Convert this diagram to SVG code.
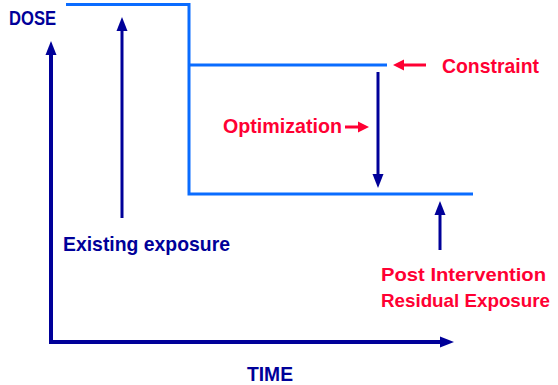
<svg xmlns="http://www.w3.org/2000/svg" width="558" height="385" viewBox="0 0 558 385">
<style>
.step{fill:none;stroke:#0a6cff;stroke-width:3}
.ax{fill:none;stroke:#000099;stroke-width:4;marker-end:url(#hb)}
.ar{fill:none;stroke:#000099;stroke-width:3;marker-end:url(#hb)}
.rd{fill:none;stroke:#ff0033;stroke-width:3;marker-end:url(#hr)}
text{font-family:"Liberation Sans",Arial,sans-serif;font-weight:bold;font-size:21px}
.b{fill:#000099}
.r{fill:#ff0033}
.s{font-size:19px}
</style>
<defs>
<marker id="hb" markerUnits="userSpaceOnUse" markerWidth="14" markerHeight="12" refX="0" refY="5.5" orient="auto" overflow="visible"><path d="M0,0 L14,5.5 L0,11 z" fill="#000099"/></marker>
<marker id="hr" markerUnits="userSpaceOnUse" markerWidth="12" markerHeight="12" refX="0" refY="5.5" orient="auto" overflow="visible"><path d="M0,0 L11,5.5 L0,11 z" fill="#ff0033"/></marker>
</defs>
<rect width="558" height="385" fill="#ffffff"/>
<g id="dose-curve">
<path class="step" d="M66,4.5 H189 V194 H473"/>
<path class="step" d="M189,65 H387"/>
</g>
<g id="connectors">
<path class="ax" d="M51,342 V55"/>
<path class="ax" d="M49,342 H440"/>
<path class="ar" d="M122,218 V31"/>
<path class="ar" d="M378,72 V174"/>
<path class="ar" d="M440,250 V215"/>
<path class="rd" d="M426,65 H404"/>
<path class="rd" d="M345,127 H358"/>
</g>
<g id="dose"><text class="b" x="9" y="25" textLength="47" lengthAdjust="spacingAndGlyphs">DOSE</text></g>
<g id="time"><text class="b" x="247" y="381" textLength="46" lengthAdjust="spacingAndGlyphs">TIME</text></g>
<g id="existing"><text class="b" x="63" y="251" textLength="167" lengthAdjust="spacingAndGlyphs">Existing exposure</text></g>
<g id="constraint"><text class="r" x="442" y="73" textLength="97" lengthAdjust="spacingAndGlyphs">Constraint</text></g>
<g id="optimization"><text class="r" x="223" y="133" textLength="119" lengthAdjust="spacingAndGlyphs">Optimization</text></g>
<g id="residual">
<text class="r s" x="381" y="281" textLength="165" lengthAdjust="spacingAndGlyphs">Post Intervention</text>
<text class="r s" x="381" y="307" textLength="169" lengthAdjust="spacingAndGlyphs">Residual Exposure</text>
</g>
</svg>
